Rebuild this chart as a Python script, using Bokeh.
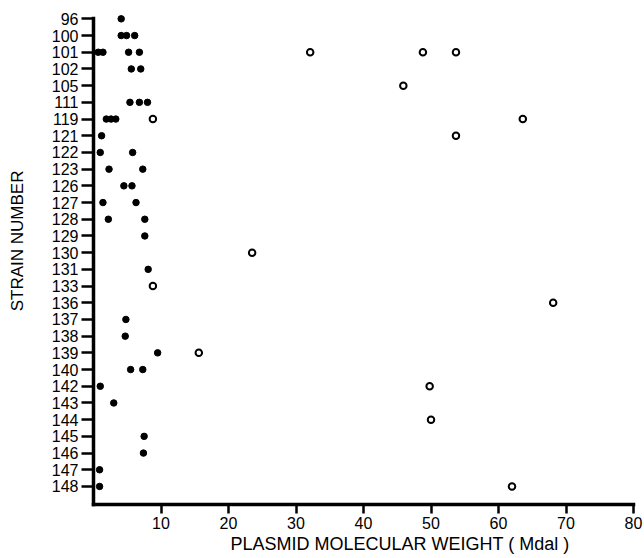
from bokeh.plotting import figure
from bokeh.models import Range1d, FixedTicker, Title
from bokeh.embed import file_html
from bokeh.resources import INLINE

strains = ["96", "100", "101", "102", "105", "111", "119", "121", "122", "123",
           "126", "127", "128", "129", "130", "131", "133", "136", "137", "138",
           "139", "140", "142", "143", "144", "145", "146", "147", "148"]

# small bands: filled dots
dot_strain = ["96",
              "100", "100", "100",
              "101", "101", "101", "101",
              "102", "102",
              "111", "111", "111",
              "119", "119", "119",
              "121",
              "122", "122",
              "123", "123",
              "126", "126",
              "127", "127",
              "128", "128",
              "129",
              "131",
              "137",
              "138",
              "139",
              "140", "140",
              "142",
              "143",
              "145",
              "146",
              "147",
              "148"]
dot_mw = [4.1,
          4.1, 4.9, 6.1,
          0.7, 1.4, 5.2, 6.8,
          5.6, 7.0,
          5.4, 6.8, 8.0,
          1.9, 2.6, 3.3,
          1.2,
          1.0, 5.8,
          2.3, 7.3,
          4.5, 5.7,
          1.4, 6.3,
          2.2, 7.6,
          7.6,
          8.1,
          4.8,
          4.7,
          9.5,
          5.5, 7.3,
          1.0,
          3.0,
          7.5,
          7.4,
          0.9,
          0.9]

# open circles
ring_strain = ["101", "101", "101", "105", "119", "119", "121", "130",
               "133", "136", "139", "142", "144", "148"]
ring_mw = [32.1, 48.8, 53.7, 45.9, 8.8, 63.6, 53.7, 23.5,
           8.8, 68.1, 15.6, 49.8, 50.0, 62.0]

x_ticks = [10, 20, 30, 40, 50, 60, 70, 80]

FONT = "Liberation Sans"

idx = {s: i for i, s in enumerate(strains)}
dot_y = [idx[s] for s in dot_strain]
ring_y = [idx[s] for s in ring_strain]

p = figure(width=644, height=558,
           x_range=Range1d(0, 80), y_range=Range1d(29.08, -0.5),
           output_backend="svg", toolbar_location=None,
           min_border_left=93, min_border_right=11,
           min_border_top=10, min_border_bottom=54)
p.outline_line_color = None
p.grid.visible = False

for ax in (p.xaxis[0], p.yaxis[0]):
    ax.axis_line_width = 3.5
    ax.axis_line_color = "black"
    ax.axis_line_cap = "square"
    ax.major_tick_line_width = 2.5
    ax.major_tick_line_color = "black"
    ax.major_tick_in = 0
    ax.minor_tick_line_color = None
    ax.major_label_text_font = FONT
    ax.major_label_text_font_size = "16px"
    ax.major_label_text_color = "black"

p.xaxis.ticker = FixedTicker(ticks=x_ticks)
p.xaxis.major_tick_out = 9
p.xaxis.major_label_standoff = 3

p.yaxis.bounds = (-0.02, 29.08)
p.yaxis.ticker = FixedTicker(ticks=list(range(len(strains))))
p.yaxis.major_label_overrides = {i: s for i, s in enumerate(strains)}
p.yaxis.major_tick_out = 12
p.yaxis.major_label_standoff = 3
p.yaxis.axis_label = "\u00a0" * 7 + "STRAIN NUMBER"
p.yaxis.axis_label_text_font = FONT
p.yaxis.axis_label_text_font_size = "17px"
p.yaxis.axis_label_text_font_style = "normal"
p.yaxis.axis_label_text_color = "black"
p.yaxis.axis_label_standoff = 22

p.scatter(dot_mw, dot_y, size=6.5, color="black")
p.scatter(ring_mw, ring_y, size=6.5, fill_color="white",
          line_color="black", line_width=2)

xt = Title(text="PLASMID MOLECULAR WEIGHT ( Mdal )", align="left", offset=137,
           standoff=0, text_font=FONT, text_font_size="18px",
           text_font_style="normal", text_color="black")
p.add_layout(xt, "below")

open("out.html", "w").write(file_html(p, INLINE))
